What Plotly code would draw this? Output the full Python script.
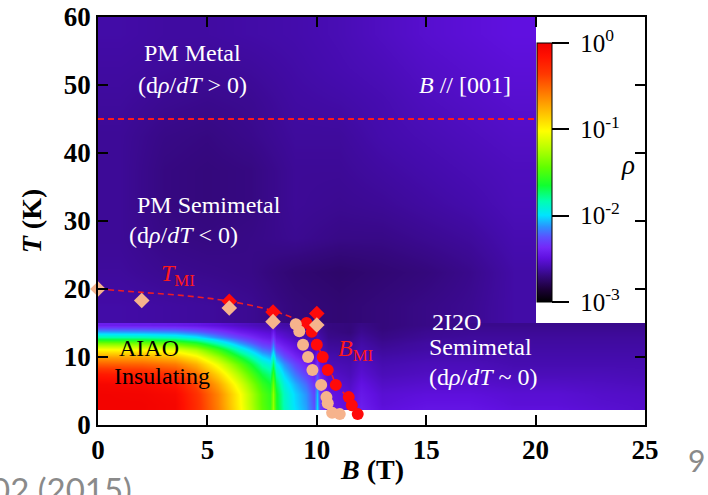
import plotly.graph_objects as go

SERIF = "Liberation Serif, Times New Roman, serif"

# ---- resistivity map, log10(rho), low-temperature window (2.2 K .. 15 K, 0 .. 25 T)
low_B = [0, 2, 3.5, 4.5, 5.5, 6.5, 7.5, 7.85, 8.0, 8.15, 8.5, 9.0, 9.5, 9.85, 10.0,
         10.15, 10.5, 11.5, 12.0, 13.0, 15.0, 17.0, 19.0, 21.0, 23.0, 25.0]
low_T = [2.5, 3.1, 4.5, 6.0, 7.5, 9.0, 10.0, 11.0, 12.0, 13.0, 13.7, 14.25, 14.75]
low_logrho = [
    [-0.03, -0.03, -0.06, -0.30, -0.60, -1.00, -1.45, -1.55, -1.30, -1.60, -1.85, -2.00, -2.10, -2.25, -2.00, -2.30, -2.45, -2.50, -2.42, -2.50, -2.47, -2.47, -2.50, -2.50, -2.52, -2.54],
    [-0.03, -0.03, -0.06, -0.30, -0.61, -1.01, -1.46, -1.56, -1.31, -1.61, -1.86, -2.01, -2.11, -2.26, -2.02, -2.31, -2.46, -2.51, -2.43, -2.51, -2.48, -2.48, -2.51, -2.51, -2.53, -2.54],
    [-0.03, -0.04, -0.08, -0.32, -0.62, -1.02, -1.47, -1.57, -1.32, -1.62, -1.87, -2.02, -2.13, -2.28, -2.05, -2.32, -2.47, -2.52, -2.45, -2.52, -2.50, -2.50, -2.52, -2.52, -2.54, -2.55],
    [-0.06, -0.08, -0.16, -0.40, -0.72, -1.12, -1.55, -1.65, -1.42, -1.70, -1.93, -2.08, -2.20, -2.33, -2.15, -2.36, -2.50, -2.55, -2.48, -2.55, -2.53, -2.53, -2.55, -2.55, -2.56, -2.57],
    [-0.20, -0.24, -0.34, -0.55, -0.88, -1.27, -1.68, -1.77, -1.55, -1.82, -2.02, -2.18, -2.30, -2.40, -2.25, -2.42, -2.54, -2.58, -2.52, -2.58, -2.56, -2.56, -2.58, -2.58, -2.58, -2.59],
    [-0.48, -0.50, -0.58, -0.76, -1.08, -1.45, -1.85, -1.93, -1.72, -1.97, -2.13, -2.28, -2.40, -2.47, -2.35, -2.48, -2.58, -2.60, -2.55, -2.60, -2.58, -2.58, -2.60, -2.60, -2.60, -2.60],
    [-0.70, -0.72, -0.80, -0.97, -1.28, -1.65, -2.00, -2.07, -1.88, -2.10, -2.25, -2.38, -2.47, -2.52, -2.42, -2.53, -2.60, -2.62, -2.57, -2.62, -2.60, -2.60, -2.61, -2.61, -2.61, -2.61],
    [-0.98, -1.00, -1.07, -1.22, -1.52, -1.88, -2.17, -2.22, -2.05, -2.25, -2.36, -2.46, -2.53, -2.57, -2.50, -2.58, -2.63, -2.64, -2.60, -2.64, -2.62, -2.62, -2.62, -2.62, -2.62, -2.62],
    [-1.38, -1.40, -1.46, -1.60, -1.86, -2.12, -2.32, -2.36, -2.20, -2.38, -2.45, -2.52, -2.57, -2.60, -2.55, -2.60, -2.65, -2.66, -2.62, -2.66, -2.63, -2.63, -2.63, -2.63, -2.63, -2.63],
    [-1.82, -1.84, -1.89, -1.98, -2.15, -2.30, -2.43, -2.46, -2.33, -2.47, -2.52, -2.57, -2.60, -2.62, -2.58, -2.62, -2.67, -2.68, -2.64, -2.68, -2.65, -2.64, -2.64, -2.64, -2.64, -2.64],
    [-2.08, -2.10, -2.13, -2.20, -2.30, -2.42, -2.50, -2.52, -2.42, -2.53, -2.56, -2.60, -2.62, -2.64, -2.60, -2.64, -2.68, -2.70, -2.66, -2.69, -2.66, -2.65, -2.65, -2.65, -2.65, -2.65],
    [-2.28, -2.29, -2.31, -2.35, -2.42, -2.50, -2.56, -2.57, -2.50, -2.58, -2.60, -2.62, -2.64, -2.65, -2.62, -2.65, -2.69, -2.70, -2.67, -2.70, -2.67, -2.66, -2.66, -2.66, -2.66, -2.66],
    [-2.42, -2.43, -2.44, -2.46, -2.50, -2.55, -2.59, -2.60, -2.56, -2.60, -2.62, -2.64, -2.65, -2.66, -2.64, -2.66, -2.69, -2.70, -2.68, -2.70, -2.68, -2.67, -2.67, -2.67, -2.67, -2.67],
]

# ---- resistivity map, log10(rho), high-temperature window (15 K .. 60 K, 0 .. 20 T)
high_B = [1, 3, 5, 7, 9, 11, 13, 15, 17, 19]
high_T = [17.5, 22.5, 27.5, 32.5, 37.5, 42.5, 47.5, 52.5, 57.5]
high_logrho = [
    [-2.62, -2.63, -2.64, -2.66, -2.70, -2.72, -2.70, -2.68, -2.66, -2.62],
    [-2.64, -2.66, -2.67, -2.68, -2.72, -2.74, -2.72, -2.70, -2.67, -2.62],
    [-2.65, -2.68, -2.69, -2.68, -2.66, -2.68, -2.68, -2.66, -2.64, -2.60],
    [-2.65, -2.69, -2.70, -2.69, -2.65, -2.66, -2.65, -2.63, -2.61, -2.58],
    [-2.65, -2.69, -2.70, -2.69, -2.65, -2.65, -2.63, -2.61, -2.59, -2.57],
    [-2.65, -2.68, -2.69, -2.67, -2.64, -2.64, -2.61, -2.59, -2.57, -2.55],
    [-2.64, -2.66, -2.67, -2.66, -2.63, -2.62, -2.60, -2.57, -2.55, -2.53],
    [-2.63, -2.64, -2.65, -2.64, -2.62, -2.60, -2.58, -2.55, -2.53, -2.51],
    [-2.62, -2.63, -2.63, -2.62, -2.61, -2.59, -2.56, -2.53, -2.51, -2.49],
]

# ---- transition points
tmi_B_light = [0, 2, 6, 8, 10]
tmi_T_light = [20.0, 18.3, 17.2, 15.2, 14.7]
tmi_B_red = [6, 8, 10]
tmi_T_red = [18.2, 16.6, 16.4]

bmi_B_light = [9.04, 9.2, 9.37, 9.6, 9.8, 10.2, 10.44, 10.5, 10.7, 11.05]
bmi_T_light = [14.8, 13.8, 11.8, 10.0, 8.1, 5.9, 4.1, 3.2, 1.8, 1.6]
bmi_B_red = [9.53, 9.77, 10.0, 10.27, 10.5, 10.87, 11.46, 11.6, 11.87]
bmi_T_red = [15.0, 13.7, 11.8, 10.0, 8.1, 5.9, 4.1, 2.9, 1.6]

# phase boundary guide (T_MI continuing into B_MI)
boundary_B = [0, 2, 4, 6, 8, 9, 9.6, 10.0, 10.3, 10.6, 10.9, 11.4, 11.9]
boundary_T = [20.0, 19.5, 19.0, 18.2, 16.8, 15.6, 14.6, 11.8, 10.0, 8.1, 5.9, 4.1, 1.6]

# PM metal / semimetal crossover
crossover_B = [0, 20]
crossover_T = [45, 45]

# colour bar
cbar_vals = [-3, -2, -1, 0]
cbar_text = ["\u00a010<sup>-3</sup>", "\u00a010<sup>-2</sup>", "\u00a010<sup>-1</sup>", "\u00a010<sup>0</sup>"]

x_ticks = [0, 5, 10, 15, 20, 25]
y_ticks = [0, 10, 20, 30, 40, 50, 60]

rainbow = [
    [0.00, "#000000"], [0.05, "#1c0038"], [0.10, "#34087c"], [0.13, "#440cac"],
    [0.17, "#6010e0"], [0.21, "#7428f8"], [0.25, "#5c50ff"], [0.29, "#2c90ff"],
    [0.335, "#00e4ff"], [0.39, "#00ffb0"], [0.45, "#10ff30"], [0.52, "#60ff00"],
    [0.59, "#b4ff00"], [0.66, "#ffff00"], [0.73, "#ffc000"], [0.80, "#ff8000"],
    [0.88, "#ff3800"], [0.95, "#ff1000"], [1.00, "#f00000"],
]

# plot area in pixels
L, R, T_, B_ = 98, 645, 17, 425
W, H = 708, 495
def px(x):
    return (x - L) / (R - L)
def py(y):
    return (B_ - y) / (B_ - T_)

fig = go.Figure()

fig.add_trace(go.Heatmap(x=low_B, y=low_T, z=low_logrho, coloraxis="coloraxis",
                         zsmooth="best", hoverinfo="skip"))
fig.add_trace(go.Heatmap(x=high_B, y=high_T, z=high_logrho, coloraxis="coloraxis",
                         zsmooth="best", hoverinfo="skip"))

fig.add_trace(go.Scatter(x=crossover_B, y=crossover_T, mode="lines",
                         line=dict(color="#ff1a1a", width=2, dash="6px,4px"),
                         hoverinfo="skip"))
fig.add_trace(go.Scatter(x=boundary_B, y=boundary_T, mode="lines",
                         line=dict(color="#f01c24", width=1.6, dash="6px,4px", shape="spline"),
                         hoverinfo="skip", cliponaxis=False))

fig.add_trace(go.Scatter(x=bmi_B_red, y=bmi_T_red, mode="markers", cliponaxis=False,
                         marker=dict(symbol="circle", size=12, color="#ff0a0a")))
fig.add_trace(go.Scatter(x=bmi_B_light, y=bmi_T_light, mode="markers", cliponaxis=False,
                         marker=dict(symbol="circle", size=12, color="#f6b38c")))
fig.add_trace(go.Scatter(x=tmi_B_red, y=tmi_T_red, mode="markers", cliponaxis=False,
                         marker=dict(symbol="diamond", size=12, color="#ff0a0a")))
fig.add_trace(go.Scatter(x=tmi_B_light, y=tmi_T_light, mode="markers", cliponaxis=False,
                         marker=dict(symbol="diamond", size=12, color="#f6b38c")))

labels = [
    ("PM Metal", 4.32, 54.7, "white"),
    ("(d<i>ρ</i>/<i>dT</i> &gt; 0)", 4.34, 50.0, "white"),
    ("<i>B</i> // [001]", 16.77, 50.0, "white"),
    ("PM Semimetal", 5.07, 32.3, "white"),
    ("(d<i>ρ</i>/<i>dT</i> &lt; 0)", 3.9, 27.9, "white"),
    ("<i>T</i><sub>MI</sub>", 3.65, 22.0, "#ff1a1a"),
    ("AIAO", 2.33, 11.3, "black"),
    ("Insulating", 2.92, 7.2, "black"),
    ("<i>B</i><sub>MI</sub>", 11.75, 11.1, "#ff1a1a"),
    ("2I2O", 16.4, 15.2, "white"),
    ("Semimetal", 17.46, 11.4, "white"),
    ("(d<i>ρ</i>/<i>dT</i> ~ 0)", 17.64, 7.0, "white"),
]
annotations = []
for text, bx, ty, col in labels:
    annotations.append(dict(text=text, x=bx, y=ty, xref="x", yref="y", showarrow=False,
                            xanchor="center", yanchor="middle",
                            font=dict(family=SERIF, size=24, color=col)))

# x-axis title
annotations.append(dict(text="<b><i>B</i> (T)</b>", x=0.5, y=py(469), xref="paper", yref="paper",
                        showarrow=False, xanchor="center", yanchor="middle",
                        font=dict(family=SERIF, size=28, color="black")))
# colour bar title
annotations.append(dict(text="<i>ρ</i>", x=px(628), y=py(165), xref="paper", yref="paper",
                        showarrow=False, xanchor="center", yanchor="middle",
                        font=dict(family=SERIF, size=27, color="black")))
# slide footer fragments
annotations.append(dict(text="02 (2015)", x=px(134), y=py(489), xref="paper", yref="paper",
                        showarrow=False, xanchor="right", yanchor="middle",
                        font=dict(family="Lato, Noto Sans, sans-serif", size=33, color="#8a8a8a")))
annotations.append(dict(text="9", x=px(696), y=py(460), xref="paper", yref="paper",
                        showarrow=False, xanchor="center", yanchor="middle",
                        font=dict(family="Lato, Noto Sans, sans-serif", size=30, color="#8a8a8a")))

axis_common = dict(showgrid=False, zeroline=False, showline=True, linecolor="black",
                   linewidth=1.5, mirror="ticks", ticks="inside", ticklen=10, tickwidth=1.5,
                   tickcolor="black", automargin=False,
                   tickfont=dict(family=SERIF, size=27, color="black", weight="bold"))

fig.update_layout(
    width=W, height=H,
    margin=dict(l=L, r=W - R, t=T_, b=H - B_, autoexpand=False),
    paper_bgcolor="white", plot_bgcolor="white",
    showlegend=False,
    xaxis=dict(range=[0, 25], tickvals=x_ticks, **axis_common),
    yaxis=dict(range=[0, 60], tickvals=y_ticks, **axis_common,
               title=dict(text="<i>T</i> (K)", standoff=14,
                          font=dict(family=SERIF, size=28, color="black", weight="bold"))),
    coloraxis=dict(
        colorscale=rainbow, cmin=-3, cmax=0,
        colorbar=dict(x=px(537), xanchor="left", y=py(172.5), yanchor="middle",
                      len=259, lenmode="pixels", thickness=15, thicknessmode="pixels",
                      xpad=0, ypad=0, outlinewidth=1, outlinecolor="black",
                      ticks="outside", ticklen=17, tickwidth=1.5, tickcolor="black",
                      tickvals=cbar_vals, ticktext=cbar_text,
                      tickfont=dict(family=SERIF, size=25, color="black"))),
    annotations=annotations,
)

fig.write_html("out.html")
